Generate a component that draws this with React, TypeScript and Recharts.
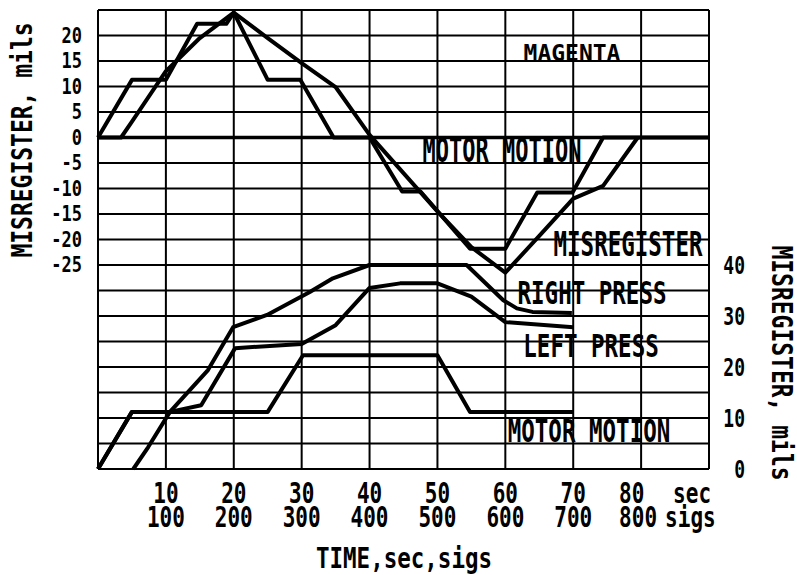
import React from 'react';
import { LineChart, Line, XAxis, YAxis, CartesianGrid, ReferenceLine } from 'recharts';

// time axis (sec); sigs = sec * 10
const timeTicks = [0, 10, 20, 30, 40, 50, 60, 70, 80, 90];
const secLabels = ['', '10', '20', '30', '40', '50', '60', '70', '80', ''];
const sigLabels = ['', '100', '200', '300', '400', '500', '600', '700', '800', ''];

// left axis (upper half), grid every 5 mils
const leftTicks = [-65, -60, -55, -50, -45, -40, -35, -30, -25, -20, -15, -10, -5, 0, 5, 10, 15, 20, 25];
const leftLabelled = [-25, -20, -15, -10, -5, 0, 5, 10, 15, 20];
// right axis (lower half)
const rightTicks = [0, 10, 20, 30, 40];

// upper half - magenta
const motorTopT = [0, 5, 10, 14.6, 18.9, 20, 25, 29.8, 34.7, 40, 44.8, 47.5, 54.8, 60, 64.7, 69.9, 74.4, 90];
const motorTopV = [0, 11.3, 11.3, 22.3, 22.3, 24.5, 11.3, 11.3, 0, 0, -10.6, -10.6, -21.8, -21.8, -10.8, -10.8, 0, 0];
const misregT = [0, 3.4, 5, 10, 15, 20, 25, 30, 35, 40, 45, 50, 55, 60, 65, 70, 74.4, 79.5];
const misregV = [0, 0, 3.1, 13, 19.5, 24.5, 19.5, 14.6, 9.9, 0.5, -7, -14.5, -21.5, -26.5, -19.3, -12, -9.5, 0];

// lower half
const rightPressT = [0, 5, 10.6, 16.2, 19.9, 24.9, 31.2, 34.6, 40, 54.3, 59.7, 61.7, 64, 69.8];
const rightPressV = [0, 11.2, 11.2, 19.4, 27.8, 30.2, 34.7, 37.4, 40, 40, 33.1, 31.5, 30.8, 30.6];
const leftPressT = [5.2, 7.4, 10.6, 15.2, 20.2, 30, 35, 40, 44.5, 50, 55, 60, 70];
const leftPressV = [0, 4.3, 11.2, 12.5, 23.7, 24.5, 28.2, 35.5, 36.4, 36.4, 33.8, 28.8, 27.8];
const motorBotT = [0, 5, 25, 30.2, 50, 54.8, 70];
const motorBotV = [0, 11.2, 11.2, 22.3, 22.3, 11.2, 11.2];

const zip = (t: number[], v: number[]) => t.map((x, i) => ({ t: x, v: v[i] }));

const FONT = "'DejaVu Sans Mono', 'Liberation Mono', monospace";

// tall, narrow lettering like the plotter font
function Txt({ x, y, size, sy = 1, anchor = 'middle', rot = 0, children }: any) {
  return (
    <text
      transform={`translate(${x},${y}) rotate(${rot}) scale(1,${sy})`}
      x={0}
      y={size * 0.3645}
      fontSize={size}
      fontFamily={FONT}
      fontWeight="bold"
      textAnchor={anchor}
      fill="#000"
    >
      {children}
    </text>
  );
}

const LeftTick = ({ y, payload }: any) =>
  leftLabelled.includes(payload.value) ? (
    <Txt x={82} y={y} size={17} sy={1.2} anchor="end">{payload.value}</Txt>
  ) : null;

const RightTick = ({ y, payload }: any) => (
  <Txt x={745} y={y} size={18} sy={1.37} anchor="end">{payload.value}</Txt>
);

const TimeTick = ({ x, payload }: any) => {
  const i = timeTicks.indexOf(payload.value);
  if (!secLabels[i]) return null;
  if (payload.value === 80) {
    return (
      <g>
        <Txt x={x - 22} y={493} size={21} sy={1.37} anchor="start">80</Txt>
        <Txt x={x + 32} y={493} size={21} sy={1.37} anchor="start">sec</Txt>
        <Txt x={x - 22} y={517} size={21} sy={1.37} anchor="start">800</Txt>
        <Txt x={x + 24} y={517} size={21} sy={1.37} anchor="start">sigs</Txt>
      </g>
    );
  }
  return (
    <g>
      <Txt x={x} y={493} size={21} sy={1.37}>{secLabels[i]}</Txt>
      <Txt x={x} y={517} size={21} sy={1.37}>{sigLabels[i]}</Txt>
    </g>
  );
};

const lineProps = {
  type: 'linear' as const,
  dataKey: 'v',
  stroke: '#000',
  strokeWidth: 4,
  strokeLinejoin: 'round' as const,
  dot: false,
  isAnimationActive: false,
};

export default function App() {
  return (
    <div style={{ position: 'absolute', left: 0, top: 0, width: 797, height: 575, background: '#fff' }}>
      <LineChart width={797} height={575} margin={{ top: 10, right: 28, bottom: 46, left: 38 }}>
        <CartesianGrid yAxisId="L" stroke="#000" strokeWidth={2} />
        <XAxis
          dataKey="t"
          type="number"
          domain={[0, 90]}
          ticks={timeTicks}
          height={60}
          axisLine={false}
          tickLine={false}
          tick={<TimeTick />}
          interval={0}
        />
        <YAxis
          yAxisId="L"
          type="number"
          domain={[-65, 25]}
          ticks={leftTicks}
          width={60}
          axisLine={false}
          tickLine={false}
          tick={<LeftTick />}
          interval={0}
        />
        <YAxis
          yAxisId="R"
          orientation="right"
          type="number"
          domain={[0, 90]}
          ticks={rightTicks}
          width={60}
          axisLine={false}
          tickLine={false}
          tick={<RightTick />}
          interval={0}
        />
        <ReferenceLine yAxisId="L" y={0} stroke="#000" strokeWidth={3.5} />
        <Line yAxisId="L" data={zip(motorTopT, motorTopV)} name="Motor motion (magenta)" {...lineProps} />
        <Line yAxisId="L" data={zip(misregT, misregV)} name="Misregister (magenta)" {...lineProps} />
        <Line yAxisId="R" data={zip(rightPressT, rightPressV)} name="Right press" {...lineProps} />
        <Line yAxisId="R" data={zip(leftPressT, leftPressV)} name="Left press" {...lineProps} />
        <Line yAxisId="R" data={zip(motorBotT, motorBotV)} name="Motor motion" {...lineProps} />
        <g>
          <Txt x={572} y={53} size={23} sy={1.0}>MAGENTA</Txt>
          <Txt x={502} y={150} size={22} sy={1.5}>MOTOR MOTION</Txt>
          <Txt x={628} y={244} size={22.5} sy={1.5}>MISREGISTER</Txt>
          <Txt x={592} y={293} size={22.5} sy={1.4}>RIGHT PRESS</Txt>
          <Txt x={591} y={345} size={22.5} sy={1.45}>LEFT PRESS</Txt>
          <Txt x={589} y={430} size={22.5} sy={1.45}>MOTOR MOTION</Txt>
          <Txt x={22} y={140} size={23} sy={1.25} rot={-90}>MISREGISTER, mils</Txt>
          <Txt x={782} y={363} size={23} sy={1.25} rot={90}>MISREGISTER, mils</Txt>
          <Txt x={404} y={557} size={22.5} sy={1.28}>TIME,sec,sigs</Txt>
        </g>
      </LineChart>
    </div>
  );
}
